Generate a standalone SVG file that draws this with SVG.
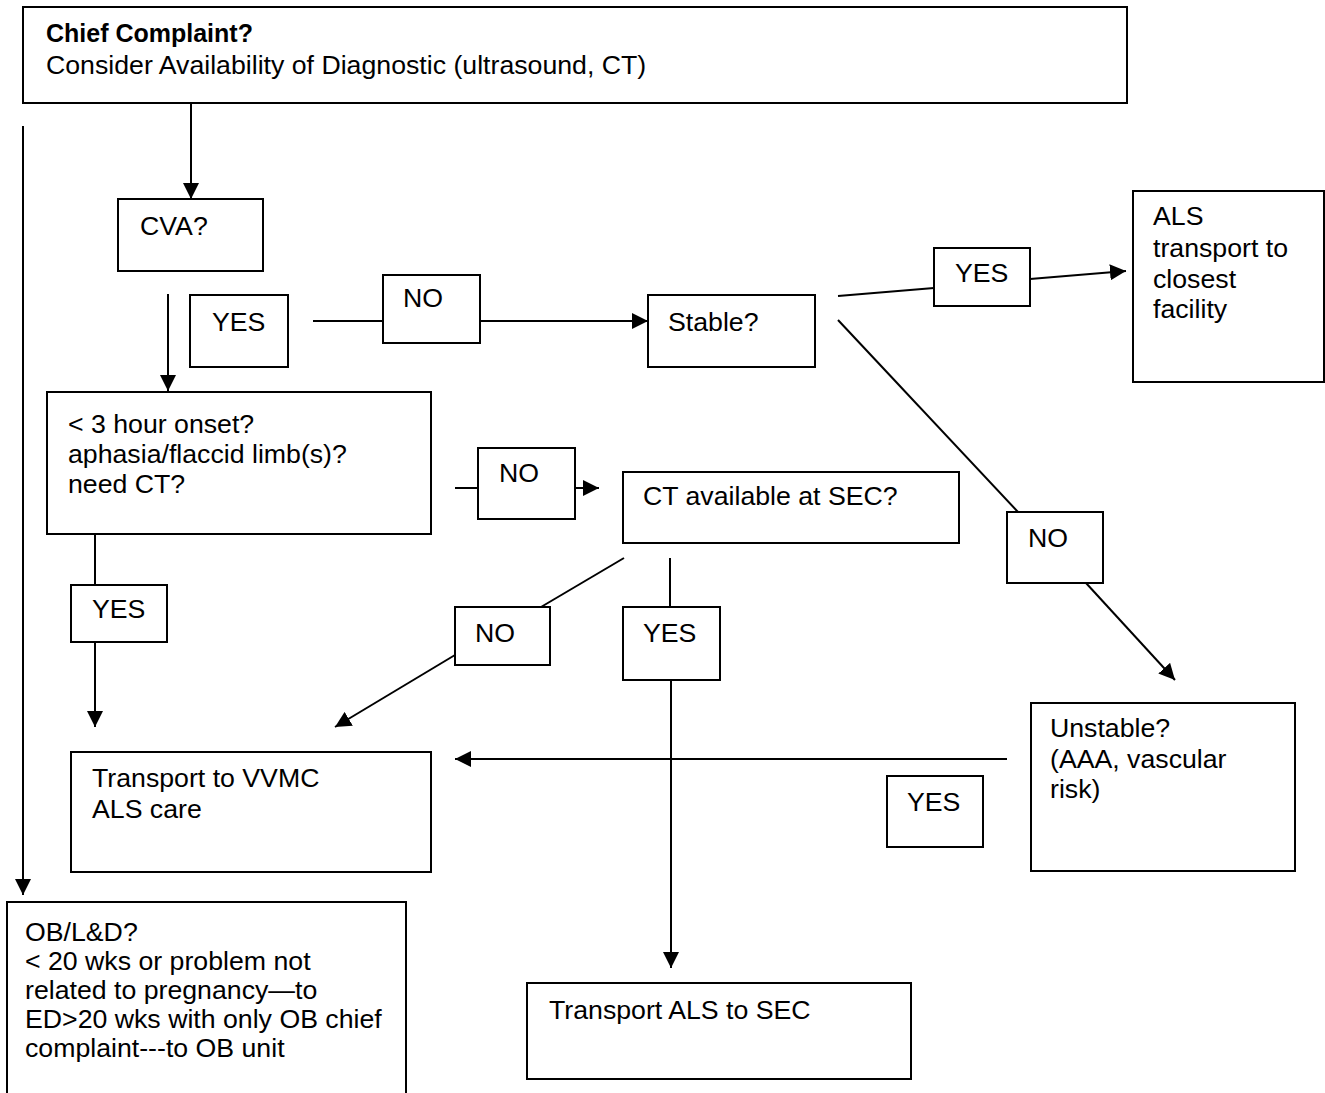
<svg xmlns="http://www.w3.org/2000/svg" width="1325" height="1093" viewBox="0 0 1325 1093">
<style>
rect{fill:#fff;stroke:#000;stroke-width:2}
line,polyline{stroke:#000;stroke-width:2;fill:none}
text{font-family:"Liberation Sans",Arial,sans-serif;font-size:26.7px;fill:#000}
.b{font-weight:bold;font-size:25px}
</style>
<defs>
<marker id="ah" markerUnits="userSpaceOnUse" markerWidth="16" markerHeight="16" refX="16" refY="8" orient="auto" viewBox="0 0 16 16">
<path d="M0,0 L16,8 L0,16 z" fill="#000"/>
</marker>
</defs>
<rect width="1325" height="1093" style="fill:#fff;stroke:none"/>
<g id="connectors">
<line x1="191" y1="103" x2="191" y2="199" marker-end="url(#ah)"/>
<line x1="23" y1="126" x2="23" y2="895" marker-end="url(#ah)"/>
<line x1="168" y1="294" x2="168" y2="391" marker-end="url(#ah)"/>
<line x1="313" y1="321" x2="383" y2="321"/>
<line x1="480" y1="321" x2="648" y2="321" marker-end="url(#ah)"/>
<line x1="838" y1="296" x2="934" y2="288"/>
<line x1="1030" y1="279" x2="1126" y2="271" marker-end="url(#ah)"/>
<line x1="838" y1="320" x2="1018" y2="512"/>
<line x1="1086" y1="583" x2="1175" y2="680" marker-end="url(#ah)"/>
<line x1="455" y1="488" x2="478" y2="488"/>
<line x1="576" y1="488" x2="599" y2="488" marker-end="url(#ah)"/>
<line x1="95" y1="535" x2="95" y2="586"/>
<line x1="95" y1="641" x2="95" y2="727" marker-end="url(#ah)"/>
<line x1="624" y1="558" x2="541" y2="607"/>
<line x1="455" y1="655" x2="335" y2="727" marker-end="url(#ah)"/>
<line x1="670" y1="558" x2="670" y2="607"/>
<line x1="671" y1="680" x2="671" y2="968" marker-end="url(#ah)"/>
<line x1="1007" y1="759" x2="455" y2="759" marker-end="url(#ah)"/>
</g>
<g id="chief">
<rect x="23" y="7" width="1104" height="96"/>
<text x="46" y="42" class="b">Chief Complaint?</text>
<text x="46" y="74">Consider Availability of Diagnostic (ultrasound, CT)</text>
</g>
<g id="cva">
<rect x="118" y="199" width="145" height="72"/>
<text x="140" y="235">CVA?</text>
</g>
<g id="yes1">
<rect x="190" y="295" width="98" height="72"/>
<text x="212" y="331">YES</text>
</g>
<g id="no1">
<rect x="383" y="275" width="97" height="68"/>
<text x="403" y="307">NO</text>
</g>
<g id="stable">
<rect x="648" y="295" width="167" height="72"/>
<text x="668" y="331">Stable?</text>
</g>
<g id="yes2">
<rect x="934" y="248" width="96" height="58"/>
<text x="955" y="282">YES</text>
</g>
<g id="als">
<rect x="1133" y="191" width="191" height="191"/>
<text x="1153" y="225">ALS</text>
<text x="1153" y="257">transport to</text>
<text x="1153" y="288">closest</text>
<text x="1153" y="318">facility</text>
</g>
<g id="onset">
<rect x="47" y="392" width="384" height="142"/>
<text x="68" y="433">&lt; 3 hour onset?</text>
<text x="68" y="463">aphasia/flaccid limb(s)?</text>
<text x="68" y="493">need CT?</text>
</g>
<g id="no2">
<rect x="478" y="448" width="97" height="71"/>
<text x="499" y="482">NO</text>
</g>
<g id="ct">
<rect x="623" y="472" width="336" height="71"/>
<text x="643" y="505">CT available at SEC?</text>
</g>
<g id="no3">
<rect x="1007" y="512" width="96" height="71"/>
<text x="1028" y="547">NO</text>
</g>
<g id="yes3">
<rect x="71" y="585" width="96" height="57"/>
<text x="92" y="618">YES</text>
</g>
<g id="no4">
<rect x="455" y="607" width="95" height="58"/>
<text x="475" y="642">NO</text>
</g>
<g id="yes4">
<rect x="623" y="607" width="97" height="73"/>
<text x="643" y="642">YES</text>
</g>
<g id="unstable">
<rect x="1031" y="703" width="264" height="168"/>
<text x="1050" y="737">Unstable?</text>
<text x="1050" y="768">(AAA, vascular</text>
<text x="1050" y="798">risk)</text>
</g>
<g id="yes5">
<rect x="887" y="776" width="96" height="71"/>
<text x="907" y="811">YES</text>
</g>
<g id="vvmc">
<rect x="71" y="752" width="360" height="120"/>
<text x="92" y="787">Transport to VVMC</text>
<text x="92" y="818">ALS care</text>
</g>
<g id="ob">
<rect x="7" y="902" width="399" height="200"/>
<text x="25" y="941">OB/L&amp;D?</text>
<text x="25" y="970">&lt; 20 wks or problem not</text>
<text x="25" y="999">related to pregnancy—to</text>
<text x="25" y="1028">ED&gt;20 wks with only OB chief</text>
<text x="25" y="1057">complaint---to OB unit</text>
</g>
<g id="sec">
<rect x="527" y="983" width="384" height="96"/>
<text x="549" y="1019">Transport ALS to SEC</text>
</g>
</svg>
